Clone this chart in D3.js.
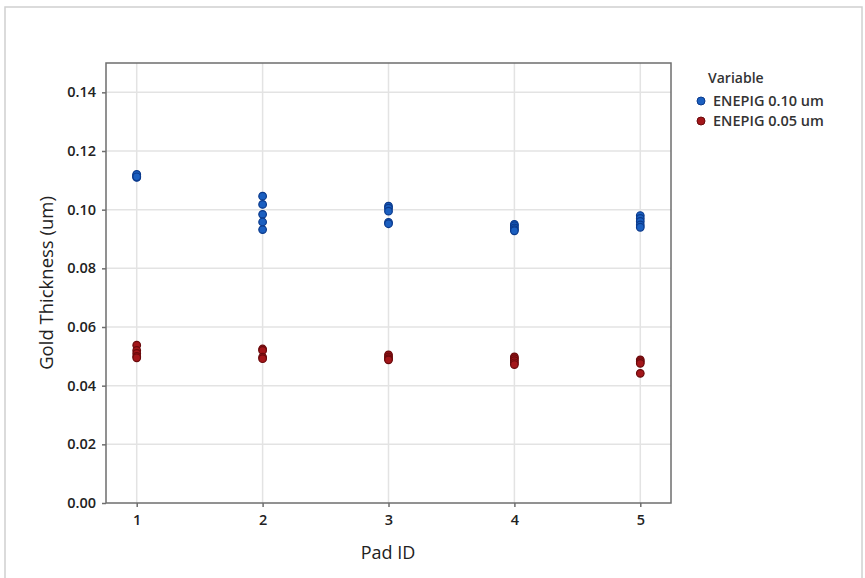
<!DOCTYPE html>
<html><head><meta charset="utf-8">
<script src="https://cdn.jsdelivr.net/npm/d3@7"></script>
<style>body{margin:0;background:#fff;} text{font-family:"Open Sans","Noto Sans",sans-serif;}</style>
</head><body>
<svg id="chart" width="865" height="578"></svg>
<script>
const padIds = [1, 2, 3, 4, 5];
const yTicks = [0.00, 0.02, 0.04, 0.06, 0.08, 0.10, 0.12, 0.14];
const seriesNames = ["ENEPIG 0.10 um", "ENEPIG 0.05 um"];
const seriesColors = ["#1b5fc0", "#a3161a"];
const seriesStroke = ["#0b3a8c", "#6a0a0c"];
const thick010 = [
  [0.1110, 0.1114, 0.1118, 0.1120, 0.1112],
  [0.1046, 0.1018, 0.0984, 0.0958, 0.0932],
  [0.1012, 0.1005, 0.0995, 0.0957, 0.0952],
  [0.0950, 0.0945, 0.0938, 0.0932, 0.0928],
  [0.0980, 0.0970, 0.0960, 0.0948, 0.0940]
];
const thick005 = [
  [0.0538, 0.0520, 0.0510, 0.0500, 0.0495],
  [0.0525, 0.0520, 0.0497, 0.0492],
  [0.0505, 0.0498, 0.0492, 0.0488],
  [0.0498, 0.0492, 0.0485, 0.0478, 0.0472],
  [0.0488, 0.0482, 0.0476, 0.0442]
];

const svg = d3.select("#chart");
svg.append("rect").attr("x", 5).attr("y", 7).attr("width", 857).attr("height", 600)
  .attr("fill", "none").attr("stroke", "#d0d0d0").attr("stroke-width", 1.5);

const L = 106, R = 671, T = 63, B = 503;
const x = d3.scaleLinear().domain([0.756, 5.244]).range([L, R]);
const y = d3.scaleLinear().domain([0, 0.15]).range([B, T]);

// gridlines
const g = svg.append("g");
g.selectAll(".gx").data(padIds).join("line")
  .attr("x1", d => x(d)).attr("x2", d => x(d)).attr("y1", T).attr("y2", B)
  .attr("stroke", "#e3e3e3").attr("stroke-width", 1.5);
g.selectAll(".gy").data(yTicks.slice(1)).join("line")
  .attr("x1", L).attr("x2", R).attr("y1", d => y(d)).attr("y2", d => y(d))
  .attr("stroke", "#e3e3e3").attr("stroke-width", 1.5);

// frame
svg.append("rect").attr("x", L).attr("y", T).attr("width", R - L).attr("height", B - T)
  .attr("fill", "none").attr("stroke", "#6e6e6e").attr("stroke-width", 1.5);

// axes
const xAxis = d3.axisBottom(x).tickValues(padIds).tickFormat(d3.format("d")).tickSize(4).tickPadding(8);
const yAxis = d3.axisLeft(y).tickValues(yTicks).tickFormat(d3.format(".2f")).tickSize(4).tickPadding(6);
const gx = svg.append("g").attr("transform", `translate(0,${B})`).call(xAxis);
const gy = svg.append("g").attr("transform", `translate(${L},0)`).call(yAxis);
[gx, gy].forEach(a => {
  a.select(".domain").remove();
  a.selectAll(".tick line").attr("stroke", "#6e6e6e").attr("stroke-width", 1.5);
  a.selectAll(".tick text").attr("fill", "#222").style("font-size", "14.5px").style("font-weight", "600");
});

// axis titles
svg.append("text").attr("x", (L + R) / 2 - 0.5).attr("y", 559).attr("text-anchor", "middle")
  .style("font-size", "18px").attr("fill", "#222").text("Pad ID");
svg.append("text").attr("transform", `translate(53,${(T + B) / 2}) rotate(-90)`).attr("text-anchor", "middle")
  .style("font-size", "18.5px").attr("fill", "#222").text("Gold Thickness (um)");

// points
[thick010, thick005].forEach((series, si) => {
  const pts = [];
  series.forEach((vals, i) => vals.forEach(v => pts.push({ pad: padIds[i], v })));
  svg.append("g").selectAll("circle").data(pts).join("circle")
    .attr("cx", d => x(d.pad)).attr("cy", d => y(d.v)).attr("r", 3.8)
    .attr("fill", seriesColors[si]).attr("stroke", seriesStroke[si]).attr("stroke-width", 1.2);
});

// legend
svg.append("text").attr("x", 708).attr("y", 83).style("font-size", "14px").style("font-weight", "600")
  .attr("fill", "#333").text("Variable");
seriesNames.forEach((n, i) => {
  const yy = 101 + i * 20;
  svg.append("circle").attr("cx", 701).attr("cy", yy).attr("r", 4)
    .attr("fill", seriesColors[i]).attr("stroke", seriesStroke[i]).attr("stroke-width", 1);
  svg.append("text").attr("x", 713).attr("y", yy + 5).style("font-size", "14.5px").style("font-weight", "600")
    .attr("fill", "#333").text(n);
});
</script>
</body></html>
